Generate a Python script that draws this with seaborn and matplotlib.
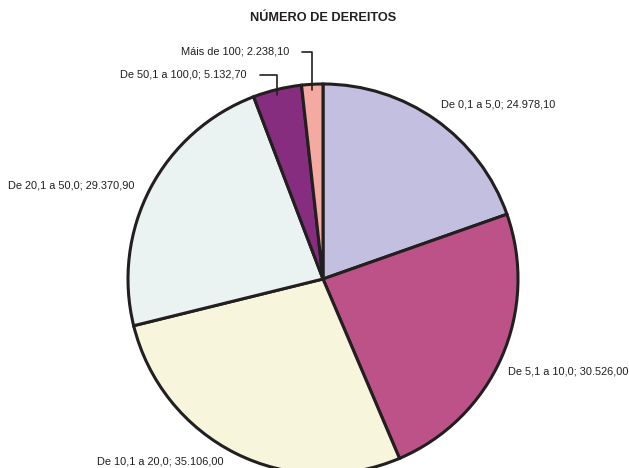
import numpy as np
import seaborn as sns
import matplotlib.pyplot as plt

sns.set_style("white")
plt.rcParams['font.family'] = ['Liberation Sans', 'DejaVu Sans']

categories = ["De 0,1 a 5,0", "De 5,1 a 10,0", "De 10,1 a 20,0",
              "De 20,1 a 50,0", "De 50,1 a 100,0", "Máis de 100"]
values = [24978.10, 30526.00, 35106.00, 29370.90, 5132.70, 2238.10]
value_labels = ["24.978,10", "30.526,00", "35.106,00",
                "29.370,90", "5.132,70", "2.238,10"]
colors = ["#C3BFE1", "#BC5287", "#F7F5DC", "#EAF3F1", "#862D80", "#F4A9A1"]

W, H = 629, 468
cx, cy, R = 323, 279, 195

fig = plt.figure(figsize=(W / 100, H / 100), dpi=100)
ax = fig.add_axes([(cx - R) / W, (H - cy - R) / H, 2 * R / W, 2 * R / H])
ax.pie(values, colors=colors, startangle=90, counterclock=False, radius=1,
       wedgeprops=dict(edgecolor="#231F20", linewidth=2.2))
ax.set_xlim(-1, 1)
ax.set_ylim(-1, 1)
ax.set_aspect("auto")
ax.axis("off")


def px(x, y):
    # pixel position (from top-left) to data coords
    return (x - cx) / R, (cy - y) / R


fig.text(cx / W, 1 - 18 / H, "NÚMERO DE DEREITOS", ha="center", va="center",
         fontsize=9.2, fontweight="bold", color="#231F20")

# label anchors in pixels (left x or right x, y)
label_pos = [(441, 105, "left"), (508, 372, "left"), (97, 461, "left"),
             (8, 186, "left"), (247, 75, "right"), (289, 52, "right")]

total = sum(values)
cum = np.cumsum([0] + values)
for i, (lab, v) in enumerate(zip(categories, value_labels)):
    x, y, ha = label_pos[i]
    tx, ty = px(x, y)
    ax.text(tx, ty, f"{lab}; {v}", ha=ha, va="center", fontsize=7.9,
            color="#231F20", clip_on=False)
    if ha == "right":
        mid = (cum[i] + values[i] / 2) / total
        ang = np.deg2rad(90 - 360 * mid)
        ex, ey = np.cos(ang), np.sin(ang)
        sx = tx + 13 / R
        ax.plot([sx, ex, ex], [ty, ty, ey * 0.97], color="#231F20",
                lw=1.2, clip_on=False)

fig.savefig("out.png", dpi=100, facecolor="white")
